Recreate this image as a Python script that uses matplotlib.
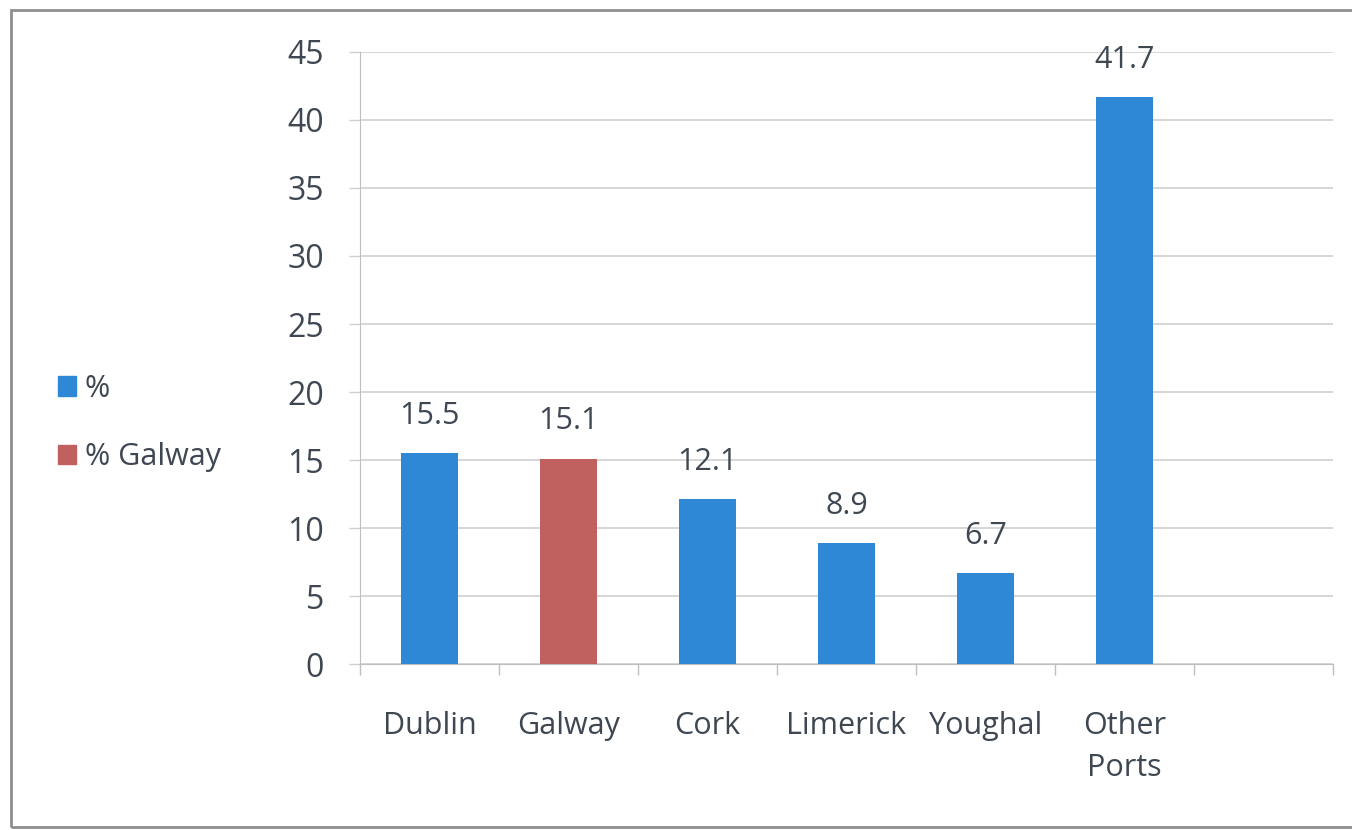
import matplotlib
matplotlib.use('Agg')
import matplotlib.pyplot as plt
import matplotlib.patches as mpatches
import numpy as np

# share of sailings by port
ports = ['Dublin', 'Galway', 'Cork', 'Limerick', 'Youghal', 'Other\nPorts']
shares = [15.5, 15.1, 12.1, 8.9, 6.7, 41.7]
highlight = 'Galway'
yticks = [0, 5, 10, 15, 20, 25, 30, 35, 40, 45]

BLUE = '#2F88D6'
RED = '#C0605F'
TEXT = '#3F4852'
GRID = '#CFCFCF'

plt.rcParams['font.family'] = ['Open Sans', 'DejaVu Sans']

fig = plt.figure(figsize=(13.52, 8.30), dpi=100)
fig.patch.set_facecolor('white')
ax = fig.add_axes([360 / 1352, 1 - 664 / 830, (1333 - 360) / 1352, (664 - 52) / 830])

x = np.arange(len(ports))
colors = [RED if p == highlight else BLUE for p in ports]
ax.bar(x, shares, width=0.41, color=colors, zorder=3)
for xi, v in zip(x, shares):
    ax.annotate(f'{v:.1f}', (xi, v), textcoords='offset points', xytext=(0, 16),
                ha='center', va='bottom', fontsize=22, color=TEXT, zorder=4)

ax.set_xlim(-0.5, len(ports) + 0.5)
ax.set_ylim(0, 45)
ax.set_yticks(yticks)
ax.set_yticklabels([str(t) for t in yticks])
ax.grid(True, axis='y', color=GRID, linewidth=1.2, zorder=0)
ax.tick_params(axis='y', length=8, width=1, color=GRID, pad=18,
               labelsize=23, labelcolor=TEXT)

ax.set_xticks(x)
ax.set_xticklabels(ports, linespacing=1.5)
ax.set_xticks(np.arange(-0.5, len(ports) + 1), minor=True)
ax.tick_params(axis='x', which='major', length=0, pad=34, labelsize=22, labelcolor=TEXT)
ax.tick_params(axis='x', which='minor', length=8, width=1, color='#BFBFBF')
for lab in ax.get_xticklabels():
    lab.set_verticalalignment('top')

for s in ['top', 'right']:
    ax.spines[s].set_visible(False)
ax.spines['left'].set_color('#BFBFBF')
ax.spines['bottom'].set_color('#BFBFBF')

# legend on the left
handles = [mpatches.Patch(color=BLUE, label='%'),
           mpatches.Patch(color=RED, label='% Galway')]
fig.legend(handles=handles, loc='center left', bbox_to_anchor=(30 / 1352, 1 - 423 / 830),
           frameon=False, fontsize=22, labelcolor=TEXT, handlelength=0.6,
           handleheight=0.6, handletextpad=0.3, labelspacing=1.25)

# outer chart frame
fig.add_artist(mpatches.Rectangle((11 / 1352, 3 / 830), 1.0, 1 - 13 / 830,
                                  transform=fig.transFigure, fill=False,
                                  edgecolor='#8E8E8E', linewidth=2))

fig.savefig('out.png', dpi=100, facecolor='white')
